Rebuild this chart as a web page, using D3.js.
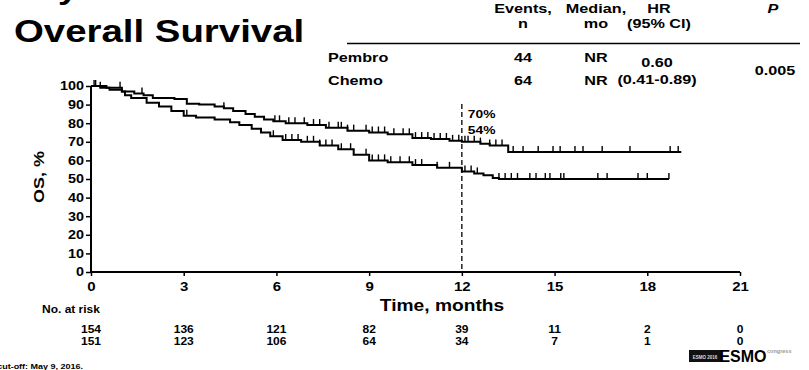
<!DOCTYPE html>
<html>
<head>
<meta charset="UTF-8">
<title>Overall Survival</title>
<style>
    body {
        margin: 0;
        background: #fff;
    }
    svg {
        display: block;
        font-family: "Liberation Sans", Arial, sans-serif;
        font-weight: bold;
    }
</style>
<script src="https://d3js.org/d3.v7.min.js"></script>
</head>
<body>
<svg id="chart" width="809" height="370"></svg>
<script>
// KM steps: [month, OS %]
var pembroSteps = [[0, 100], [0.3, 99], [0.6, 98], [1.0, 97], [1.4, 96], [1.7, 95], [2.0, 93.5],
    [2.7, 93], [3.1, 90.5], [3.5, 90], [4.0, 89], [4.3, 88], [4.6, 86.5], [5.0, 85], [5.3, 83.5],
    [5.6, 82], [5.9, 81], [6.3, 80], [7.0, 79], [7.6, 77.5], [8.3, 76], [9.0, 75], [9.6, 74],
    [10.4, 72], [11.0, 71.5], [11.6, 70.5], [12.0, 70], [12.6, 69], [12.9, 68], [13.5, 64.5]];
var pembroEnd = 19.1;
var pembroCensor = [0.15, 0.3, 1.65, 4.3, 5.95, 6.1, 6.4, 6.6, 6.9, 7.2, 7.4, 7.7, 8.0, 8.1, 8.3,
    8.5, 8.9, 9.1, 9.3, 9.5, 9.8, 10.1, 10.3, 10.5, 10.7, 10.9, 11.1, 11.3, 11.5, 11.7, 11.9, 12.1,
    12.2, 12.4, 12.6, 12.9, 13.1, 13.3, 13.66, 13.98, 14.47, 14.95, 15.18, 15.66, 15.92, 16.54,
    17.44, 18.74, 19.0];

var chemoSteps = [[0, 100], [0.5, 99], [1.0, 97], [1.1, 95], [1.3, 93.5], [1.8, 91], [2.2, 89],
    [2.6, 86.5], [3.0, 84], [3.4, 83], [4.0, 82], [4.5, 80.5], [4.8, 79], [5.2, 77], [5.5, 75],
    [5.8, 73], [6.2, 71], [6.8, 70], [7.4, 68], [8.0, 66], [8.5, 63], [9.0, 60], [9.6, 59],
    [10.4, 57.5], [11.2, 56], [12.0, 54], [12.4, 53], [12.7, 52], [13.0, 50.5], [13.2, 50]];
var chemoEnd = 18.7;
var chemoCensor = [0.1, 0.94, 3.1, 5.9, 6.3, 6.5, 6.7, 7.0, 7.2, 7.4, 7.6, 7.8, 8.1, 8.4, 8.9,
    9.1, 9.3, 9.5, 9.7, 10.0, 10.3, 10.5, 10.7, 11.2, 11.6, 12.1, 12.3, 12.5, 13.2, 13.4, 13.6,
    13.8, 14.2, 14.4, 14.7, 14.85, 15.2, 15.3, 16.4, 16.7, 17.7, 18.0, 18.7];

var xTicks = [0, 3, 6, 9, 12, 15, 18, 21];
var yTicks = [0, 10, 20, 30, 40, 50, 60, 70, 80, 90, 100];
var riskPembro = [154, 136, 121, 82, 39, 11, 2, 0];
var riskChemo = [151, 123, 106, 64, 34, 7, 1, 0];
var landmark = {month: 12, labels: ["70%", "54%"]};

var tableHead = [["Events,", "n"], ["Median,", "mo"], ["HR", "(95% CI)"]];
var tableRows = [["Pembro", "44", "NR"], ["Chemo", "64", "NR"]];
var hrText = ["0.60", "(0.41-0.89)"];
var pText = "0.005";

var svg = d3.select("#chart");
var x = d3.scaleLinear().domain([0, 21]).range([91, 740]);
var y = d3.scaleLinear().domain([0, 100]).range([272, 86]);
var SX = 1.2; // the slide is stretched sideways

function label(px, py, txt, size, anchor, opts) {
    opts = opts || {};
    var t = svg.append("text")
        .attr("transform", "translate(" + px + "," + py + ") scale(" + (opts.sx || SX) + ",1)")
        .attr("font-size", size)
        .attr("text-anchor", anchor || "start")
        .attr("fill", opts.fill || "#000")
        .text(txt);
    if (opts.italic) t.attr("font-style", "italic");
    return t;
}

// title (the line above it is cut off by the frame)
label(12, -1, "Key Results", 30, "start");
label(14, 42, "Overall Survival", 32, "start");

// table
tableHead.forEach(function (h, i) {
    var cx = [523, 596, 659][i];
    label(cx, 13, h[0], 13.5, "middle");
    label(cx, 28, h[1], 13.5, "middle");
});
label(773, 13, "P", 13.5, "middle", {italic: true});
svg.append("line").attr("x1", 347).attr("x2", 800).attr("y1", 43.5).attr("y2", 43.5)
    .attr("stroke", "#000").attr("stroke-width", 1.5);
tableRows.forEach(function (r, i) {
    var by = [62, 85][i];
    label(328, by, r[0], 13.5, "start");
    label(523, by, r[1], 13.5, "middle");
    label(596, by, r[2], 13.5, "middle");
});
label(657, 67, hrText[0], 13.5, "middle");
label(657, 84, hrText[1], 13.5, "middle");
label(775, 75, pText, 13.5, "middle");

// axes
var yAxis = svg.append("g").attr("transform", "translate(91,0)")
    .call(d3.axisLeft(y).tickValues(yTicks).tickSize(5).tickPadding(2));
var xAxis = svg.append("g").attr("transform", "translate(0,272)")
    .call(d3.axisBottom(x).tickValues(xTicks).tickSize(4).tickPadding(6));
[yAxis, xAxis].forEach(function (a) {
    a.select(".domain").attr("stroke-width", 2).attr("stroke", "#000");
    a.selectAll(".tick line").attr("stroke", "#000").attr("stroke-width", 1.5);
    a.selectAll("text").attr("font-size", 12).attr("font-family", null).attr("fill", "#000")
        .attr("font-weight", "bold").attr("transform", "scale(" + SX + ",1)");
});
yAxis.select(".domain").attr("d", "M0,272V86");
xAxis.select(".domain").attr("d", "M91,0H740");
yAxis.selectAll(".tick text").attr("x", -7 / SX);
xAxis.selectAll(".tick text").attr("x", 0).attr("font-size", 12.5);

svg.append("text")
    .attr("transform", "translate(44,177) rotate(-90) scale(" + SX + ",1)")
    .attr("text-anchor", "middle").attr("font-size", 15).text("OS, %");
label(442, 311, "Time, months", 16, "middle");

// KM curves
function stepAt(steps, t) {
    var v = steps[0][1];
    steps.forEach(function (s) { if (s[0] <= t) v = s[1]; });
    return v;
}
var line = d3.line().x(function (d) { return x(d[0]); }).y(function (d) { return y(d[1]); })
    .curve(d3.curveStepAfter);

[[pembroSteps, pembroEnd, pembroCensor], [chemoSteps, chemoEnd, chemoCensor]].forEach(function (arm) {
    var pts = arm[0].concat([[arm[1], arm[0][arm[0].length - 1][1]]]);
    svg.append("path").attr("d", line(pts)).attr("fill", "none")
        .attr("stroke", "#000").attr("stroke-width", 2);
    svg.append("g").selectAll("line").data(arm[2]).join("line")
        .attr("x1", function (d) { return x(d); }).attr("x2", function (d) { return x(d); })
        .attr("y1", function (d) { return y(stepAt(arm[0], d)); })
        .attr("y2", function (d) { return y(stepAt(arm[0], d)) - 6; })
        .attr("stroke", "#000").attr("stroke-width", 1.4);
});

// 12-month landmark
svg.append("line").attr("x1", x(landmark.month)).attr("x2", x(landmark.month))
    .attr("y1", 104).attr("y2", 272).attr("stroke", "#000").attr("stroke-width", 1.3)
    .attr("stroke-dasharray", "5,3");
label(x(landmark.month) + 6, 118, landmark.labels[0], 11.5, "start");
label(x(landmark.month) + 6, 134, landmark.labels[1], 11.5, "start");

// number at risk
label(42, 313, "No. at risk", 10, "start");
riskPembro.forEach(function (v, i) { label(x(xTicks[i]), 333, v, 10, "middle"); });
riskChemo.forEach(function (v, i) { label(x(xTicks[i]), 345, v, 10, "middle"); });

// footnote and logo
label(83, 369, "Data cut-off: May 9, 2016.", 7.5, "end");
svg.append("rect").attr("x", 689).attr("y", 350).attr("width", 32).attr("height", 12).attr("fill", "#111");
label(705, 358.5, "ESMO 2016", 4.5, "middle", {fill: "#ddd", sx: 1});
label(743, 362, "ESMO", 16, "middle", {sx: 1.0});
label(767, 353, "congress", 5.5, "start", {fill: "#999", sx: 1});
</script>
</body>
</html>
